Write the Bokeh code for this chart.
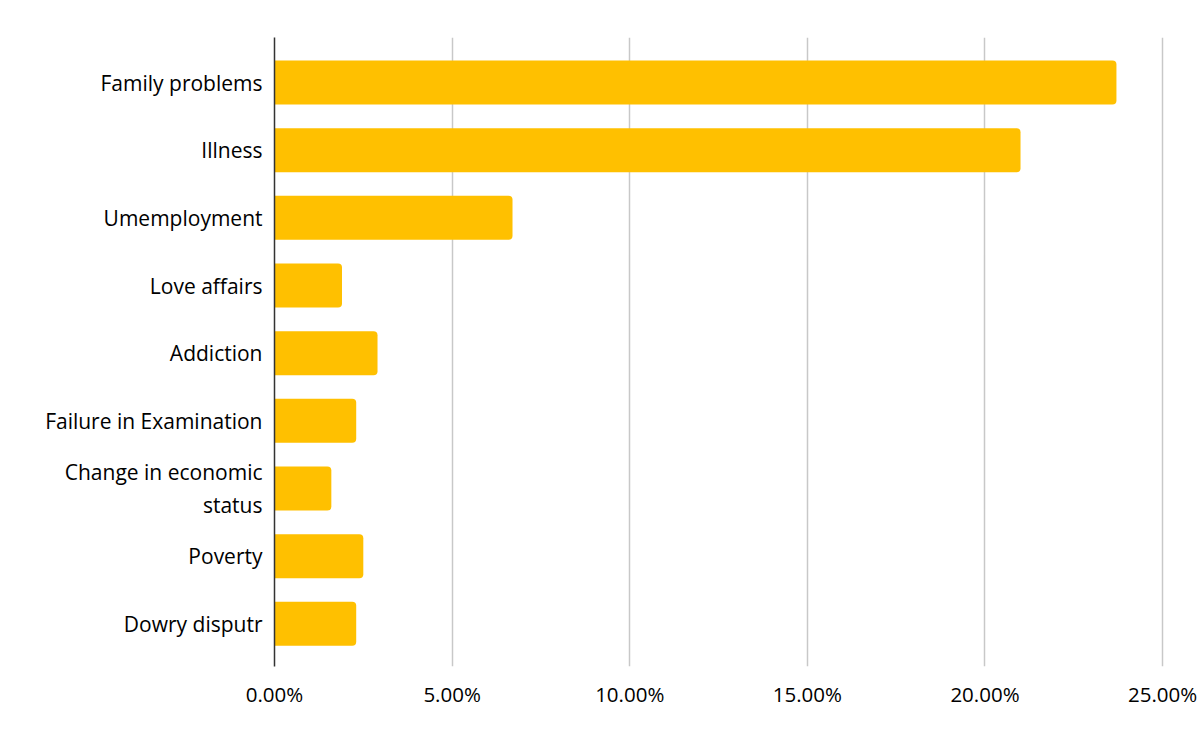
from bokeh.plotting import figure
from bokeh.models import ColumnDataSource, Range1d, FixedTicker, PrintfTickFormatter
from bokeh.embed import file_html
from bokeh.resources import INLINE

categories = ["Family problems", "Illness", "Umemployment", "Love affairs", "Addiction",
              "Failure in Examination", "Change in economic\nstatus", "Poverty", "Dowry disputr"]
values = [23.7, 21.0, 6.7, 1.9, 2.9, 2.3, 1.6, 2.5, 2.3]
x_ticks = [0, 5, 10, 15, 20, 25]

FONT = "Open Sans"
n = len(categories)
src = ColumnDataSource(dict(y=list(range(n)), v=values))

p = figure(width=1200, height=742, output_backend="svg", toolbar_location=None,
           x_range=Range1d(0, 26.01), y_range=Range1d(n - 1 + 0.63, -0.665),
           min_border_left=274, min_border_right=2, min_border_top=37, min_border_bottom=76)
p.outline_line_color = None
p.background_fill_color = "white"

p.hbar(y="y", left=0, right="v", height=0.65, source=src, fill_color="#FFC000",
       line_color=None, border_radius=(0, 4, 4, 0))

p.xaxis.ticker = FixedTicker(ticks=x_ticks)
p.xaxis.formatter = PrintfTickFormatter(format="%.2f%%")
p.xaxis.axis_line_color = None
p.xaxis.major_tick_line_color = None
p.xaxis.minor_tick_line_color = None
p.xaxis.major_label_text_font = FONT
p.xaxis.major_label_text_font_size = "20.5px"
p.xaxis.major_label_text_color = "#000000"
p.xaxis.major_label_standoff = 7

p.yaxis.ticker = FixedTicker(ticks=list(range(n)))
p.yaxis.major_label_overrides = {i: c for i, c in enumerate(categories)}
p.yaxis.axis_line_color = "#333333"
p.yaxis.axis_line_width = 1.5
p.yaxis.major_tick_line_color = None
p.yaxis.minor_tick_line_color = None
p.yaxis.major_label_text_font = FONT
p.yaxis.major_label_text_font_size = "21px"
p.yaxis.major_label_text_color = "#000000"
p.yaxis.major_label_standoff = 6

p.xgrid.ticker = FixedTicker(ticks=x_ticks)
p.xgrid.grid_line_color = "#c8c8c8"
p.xgrid.grid_line_width = 1.5
p.ygrid.grid_line_color = None

open("out.html", "w").write(file_html(p, INLINE))
